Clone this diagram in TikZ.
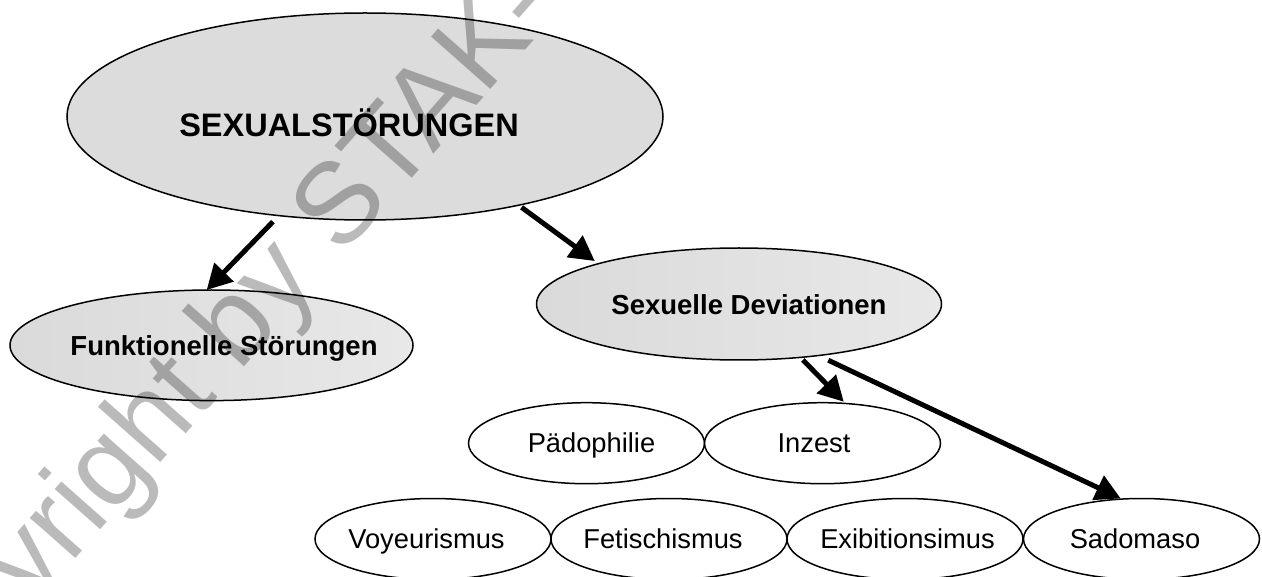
\documentclass[tikz,border=0pt]{standalone}
\usepackage{fontspec}
\setmainfont{Liberation Sans}
\usetikzlibrary{shapes.geometric,arrows.meta}
\definecolor{topfill}{HTML}{DCDCDC}
\definecolor{subleft}{HTML}{DADADA}
\definecolor{subright}{HTML}{E8E8E8}
\begin{document}
\begin{tikzpicture}[x=1pt,y=-1pt,
  ell/.style={ellipse, draw=black, line width=1.5pt, inner sep=0pt, outer sep=0pt},
  topell/.style={ell, fill=topfill},
  subell/.style={ell, left color=subleft, right color=subright},
  leaf/.style={ell, fill=white, minimum width=236pt, minimum height=81pt},
  toplbl/.style={font=\bfseries\fontsize{32.5}{36}\selectfont, text height=23.3pt, text depth=0pt, inner sep=0pt},
  sublbl/.style={font=\bfseries\fontsize{27.5}{32}\selectfont, text height=19.7pt, text depth=0pt, inner sep=0pt},
  leaflbl/.style={font=\fontsize{27.3}{32}\selectfont, text height=19.5pt, text depth=0pt, inner sep=0pt},
  arr/.style={line width=5pt, -{Triangle[length=25pt,width=26pt]}},
  wmark/.style={text=black, text opacity=0.27, font=\fontsize{115}{115}\selectfont, inner sep=0pt, rotate=48.5, anchor=base west}
]
\useasboundingbox (0,0) rectangle (1262,577);

% top level
\node[topell, minimum width=596pt, minimum height=207pt,
      label={[toplbl, xshift=-16pt, yshift=-8.5pt]center:SEXUALSTÖRUNGEN}] (main) at (365,116.5) {};

% second level
\node[subell, minimum width=403pt, minimum height=110.6pt,
      label={[sublbl, xshift=12.5pt, yshift=-0.7pt]center:Funktionelle Störungen}] (funk) at (211.5,345.3) {};
\node[subell, minimum width=405pt, minimum height=112pt,
      label={[sublbl, xshift=10pt, yshift=-0.5pt]center:Sexuelle Deviationen}] (dev) at (739,304) {};

% leaves, row 1
\node[leaf, label={[leaflbl, xshift=5pt]center:Pädophilie}] (paed) at (586.5,443.2) {};
\node[leaf, label={[leaflbl, xshift=-8.5pt]center:Inzest}] (inz) at (822.5,443.2) {};

% leaves, row 2
\node[leaf, label={[leaflbl, xshift=-6.5pt]center:Voyeurismus}] (voy) at (433,539) {};
\node[leaf, label={[leaflbl, xshift=-6pt]center:Fetischismus}] (fet) at (669,539) {};
\node[leaf, label={[leaflbl, xshift=2.5pt]center:Exibitionsimus}] (exi) at (905,539) {};
\node[leaf, label={[leaflbl, xshift=-6.5pt]center:Sadomaso}] (sado) at (1141.5,539) {};

% connectors
\draw[arr, shorten <=8.5pt] (main.229.1) -- (funk.95);
\draw[arr, shorten <=3.7pt, shorten >=4.5pt] (main.330.8) -- (dev.164.7);
\draw[arr, shorten <=3.6pt, shorten >=2.4pt] (dev.319) -- (inz.60.5);
\draw[arr, shorten <=11pt, shorten >=1.5pt] (dev.327.7) -- (sado.116.5);

% watermark
\node[wmark] (wm) at (-107.4,765.4) {Copyright by STAK-};
\end{tikzpicture}
\end{document}
